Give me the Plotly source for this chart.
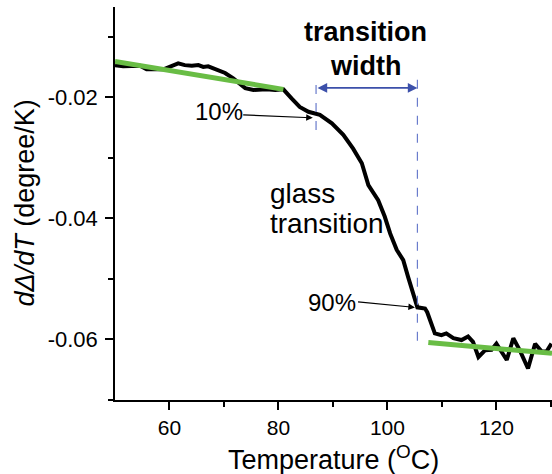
import plotly.graph_objects as go

# Derivative of the signal vs temperature
temperature = [50, 51.5, 54.6, 55.8, 58.9, 60.4, 61.6, 62.8, 64.1, 65.3, 66.2, 67.1,
               68.7, 70.2, 71.7, 73.9, 75.4, 77.8, 79.4, 80.9, 82.4, 83.9, 85.5, 86.7,
               87.6, 89.8, 91.9, 93.7, 95.3, 96.5, 98.3, 99.5, 100.5, 101.7, 102.9,
               103.8, 104.7, 105.5, 106.9, 107.3, 108.7, 109.9, 110.8, 112.1, 113.6,
               114.8, 115.7, 116.7, 117.9, 119.1, 120.0, 121.0, 121.9, 123.1, 124.3,
               125.8, 127.1, 128.3, 129.2, 130.1]
derivative = [-0.0147, -0.0149, -0.0148, -0.0154, -0.0154, -0.0149, -0.0144, -0.0147,
              -0.0148, -0.0147, -0.0150, -0.0149, -0.0155, -0.0160, -0.0169, -0.0185,
              -0.0188, -0.0187, -0.0188, -0.0187, -0.0202, -0.0216, -0.0224, -0.0226,
              -0.0229, -0.0243, -0.0262, -0.0285, -0.0309, -0.0345, -0.0370, -0.0397,
              -0.0425, -0.0452, -0.0469, -0.0497, -0.0524, -0.0547, -0.0549, -0.0555,
              -0.0590, -0.0593, -0.0590, -0.0598, -0.0601, -0.0595, -0.0604, -0.0629,
              -0.0618, -0.0617, -0.0607, -0.0620, -0.0634, -0.0598, -0.0618, -0.0648,
              -0.0607, -0.0620, -0.0620, -0.0607]

# Baseline fits below and above the transition
glassy_fit_T = [50, 80.9]
glassy_fit_y = [-0.0141, -0.0187]
rubbery_fit_T = [107.5, 130.2]
rubbery_fit_y = [-0.0605, -0.0623]

# Transition bounds (10 % and 90 %)
T10 = 86.9
T90 = 105.5

x_tickvals = [60, 80, 100, 120]
x_ticktext = ["60", "80", "100", "120"]
y_tickvals = [-0.06, -0.04, -0.02]
y_ticktext = ["-0.06", "-0.04", "-0.02"]

FONT = "Liberation Sans, Arial, sans-serif"
BLUE = "#3c50aa"
DASH_BLUE = "#6a7ccc"
GREEN = "#69bd45"

fig = go.Figure()
fig.add_trace(go.Scatter(x=temperature, y=derivative, mode="lines",
                         line=dict(color="black", width=4), hoverinfo="skip"))
fig.add_trace(go.Scatter(x=glassy_fit_T, y=glassy_fit_y, mode="lines",
                         line=dict(color=GREEN, width=5)))
fig.add_trace(go.Scatter(x=rubbery_fit_T, y=rubbery_fit_y, mode="lines",
                         line=dict(color=GREEN, width=5)))

# Dashed markers at the transition bounds
fig.add_shape(type="line", x0=T10, x1=T10, y0=-0.0180, y1=-0.0255,
              line=dict(color=DASH_BLUE, width=1.2, dash="dash"))
fig.add_shape(type="line", x0=T90, x1=T90, y0=-0.0171, y1=-0.0606,
              line=dict(color=DASH_BLUE, width=1.2, dash="dash"))

ann = []
# Double-headed width arrow
ann.append(dict(x=T90, y=-0.01846, ax=T10, ay=-0.01846, axref="x", ayref="y",
                xref="x", yref="y", text="", showarrow=True, arrowside="end+start",
                arrowhead=2, arrowsize=1.2, arrowwidth=1.6, arrowcolor=BLUE,
                standoff=0, startstandoff=0))
# Pointers to the 10 % and 90 % points
ann.append(dict(x=86.3, y=-0.0234, ax=73.25, ay=-0.0229, axref="x", ayref="y",
                xref="x", yref="y", text="", showarrow=True, arrowhead=2,
                arrowsize=1.1, arrowwidth=1.2, arrowcolor="black"))
ann.append(dict(x=105.05, y=-0.05471, ax=94.33, ay=-0.05378, axref="x", ayref="y",
                xref="x", yref="y", text="", showarrow=True, arrowhead=2,
                arrowsize=1.1, arrowwidth=1.2, arrowcolor="black"))


def label(text, x, y, size, xanchor="center", bold=False):
    return dict(x=x, y=y, xref="x", yref="y", text=f"<b>{text}</b>" if bold else text,
                showarrow=False, xanchor=xanchor, yanchor="middle",
                font=dict(family=FONT, size=size, color="black"))


ann.append(label("transition", 95.9, -0.00929, 27, bold=True))
ann.append(label("width", 95.9, -0.01491, 27, bold=True))
ann.append(label("10%", 69.0, -0.02235, 24))
ann.append(label("90%", 89.9, -0.05383, 24))
ann.append(label("glass", 78.0, -0.03582, 28, xanchor="left"))
ann.append(label("transition", 78.0, -0.04078, 28, xanchor="left"))

# Axis titles
ann.append(dict(x=0, y=0.5, xref="paper", yref="paper", xshift=-91, textangle=-90,
                text="<i>dΔ/dT</i> (degree/K)", showarrow=False,
                xanchor="center", yanchor="middle",
                font=dict(family=FONT, size=27, color="black")))
ann.append(dict(x=0.5, y=0, xref="paper", yref="paper", yshift=-58,
                text="Temperature (<sup>O</sup>C)", showarrow=False,
                xanchor="center", yanchor="middle",
                font=dict(family=FONT, size=27, color="black")))

fig.update_layout(
    width=552, height=474,
    margin=dict(l=115, r=0, t=7, b=74),
    paper_bgcolor="white", plot_bgcolor="white",
    showlegend=False,
    annotations=ann,
    font=dict(family=FONT, color="black"),
)
fig.update_xaxes(range=[50, 130.2], showgrid=False, zeroline=False,
                 showline=True, linecolor="black", linewidth=1.5,
                 ticks="outside", ticklen=8, tickwidth=1.5, tickcolor="black",
                 tickvals=x_tickvals, ticktext=x_ticktext,
                 tickfont=dict(family=FONT, size=21, color="black"),
                 minor=dict(tickvals=[70, 90, 110, 130], ticks="outside", ticklen=5,
                            tickwidth=1.5, tickcolor="black"))
fig.update_yaxes(range=[-0.07, -0.0051], showgrid=False, zeroline=False,
                 showline=True, linecolor="black", linewidth=1.5,
                 ticks="outside", ticklen=8, tickwidth=1.5, tickcolor="black",
                 tickvals=y_tickvals, ticktext=y_ticktext, ticklabelstandoff=3,
                 tickfont=dict(family=FONT, size=22, color="black"),
                 minor=dict(tickvals=[-0.07, -0.05, -0.03, -0.01], ticks="outside",
                            ticklen=5, tickwidth=1.5, tickcolor="black"))

fig.write_html("out.html")
